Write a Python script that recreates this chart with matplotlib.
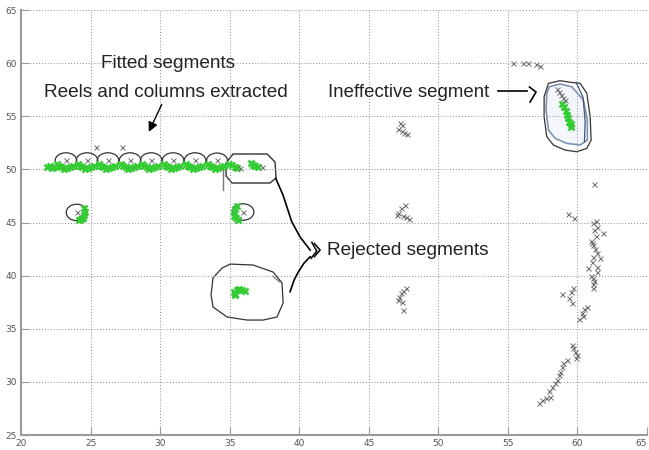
import matplotlib
matplotlib.use("Agg")
import matplotlib.pyplot as plt
from matplotlib.patches import Ellipse, Polygon

# gray "x" points (raw detections)
gray_x = [23.23, 24.74, 26.25, 27.84, 29.35, 30.93, 32.51, 34.09, 25.39, 27.26,
          24.0, 35.96, 35.74, 37.33,
          47.25, 47.39, 47.10, 47.39, 47.53, 47.75,
          47.60, 47.32, 47.10, 47.03, 47.46, 47.68, 47.90,
          47.68, 47.46, 47.32, 47.17, 47.10, 47.39, 47.46,
          55.37, 56.09, 56.45, 57.02, 57.31,
          58.50, 58.65, 58.80, 58.95, 59.10,
          61.19, 59.30, 59.78, 61.34, 61.14, 61.39, 61.86, 61.19, 61.34, 60.96,
          61.03, 61.10, 61.27, 61.39, 61.62, 61.14, 61.03, 61.39, 60.78, 61.39,
          60.98, 61.10, 61.19, 61.10, 61.10, 59.66, 58.91, 59.54, 59.40, 59.59,
          60.67, 60.47, 60.31, 60.38, 60.14,
          59.59, 59.66, 59.83, 59.95, 59.88, 59.23, 58.99, 58.87, 58.75, 58.70,
          58.56, 58.39, 58.15, 57.98, 58.03, 57.74, 57.43, 57.26]
gray_y = [50.84, 50.84, 50.84, 50.84, 50.84, 50.84, 50.84, 50.84, 52.10, 52.10,
          45.95, 45.99, 50.10, 50.20,
          54.36, 54.18, 53.80, 53.60, 53.42, 53.33,
          46.65, 46.36, 45.90, 45.70, 45.60, 45.50, 45.33,
          38.84, 38.56, 38.36, 37.99, 37.70, 37.50, 36.76,
          60.00, 60.00, 60.00, 59.95, 59.70,
          57.60, 57.30, 57.00, 56.70, 56.50,
          48.60, 45.77, 45.45, 45.17, 44.93, 44.60, 43.98, 44.29, 43.73, 43.29,
          43.10, 42.88, 42.48, 42.16, 41.63, 41.78, 41.31, 40.84, 40.69, 40.37,
          39.96, 39.75, 39.49, 39.21, 38.81, 38.81, 38.27, 38.49, 37.92, 37.45,
          37.07, 36.83, 36.51, 36.20, 35.92,
          33.47, 33.16, 32.84, 32.53, 32.22, 32.06, 31.75, 31.43, 30.96, 30.65,
          30.18, 29.87, 29.55, 29.18, 28.55, 28.45, 28.29, 28.04]

# green points (fitted segment points)
green_x = [21.90, 22.05, 22.20, 22.35,
           22.55, 22.70, 22.90, 23.10, 23.30, 23.50, 23.75,
           24.06, 24.21, 24.41, 24.61, 24.81, 25.01, 25.26,
           25.57, 25.72, 25.92, 26.12, 26.32, 26.52, 26.77,
           27.16, 27.31, 27.51, 27.71, 27.91, 28.11, 28.36,
           28.67, 28.82, 29.02, 29.22, 29.42, 29.62, 29.87,
           30.25, 30.40, 30.60, 30.80, 31.00, 31.20, 31.45,
           31.83, 31.98, 32.18, 32.38, 32.58, 32.78, 33.03,
           33.41, 33.56, 33.76, 33.96, 34.16, 34.36, 34.61,
           34.95, 35.15, 35.35, 35.55, 36.55, 36.70, 36.85, 37.00,
           24.50, 24.58, 24.55, 24.45, 24.30, 24.15,
           35.50, 35.35, 35.28, 35.32, 35.45, 35.62,
           35.30, 35.50, 35.70, 35.90, 36.10, 35.40, 35.35,
           58.90, 59.05, 59.15, 59.25, 59.35, 59.42, 59.50, 59.55]
green_y = [50.20, 50.30, 50.15, 50.25,
           50.55, 50.35, 50.18, 50.08, 50.10, 50.18, 50.33,
           50.55, 50.35, 50.18, 50.08, 50.10, 50.18, 50.33,
           50.55, 50.35, 50.18, 50.08, 50.10, 50.18, 50.33,
           50.55, 50.35, 50.18, 50.08, 50.10, 50.18, 50.33,
           50.55, 50.35, 50.18, 50.08, 50.10, 50.18, 50.33,
           50.55, 50.35, 50.18, 50.08, 50.10, 50.18, 50.33,
           50.55, 50.35, 50.18, 50.08, 50.10, 50.18, 50.33,
           50.55, 50.35, 50.18, 50.08, 50.10, 50.18, 50.33,
           50.55, 50.40, 50.25, 50.15, 50.60, 50.45, 50.30, 50.20,
           46.40, 46.00, 45.70, 45.45, 45.30, 45.20,
           46.60, 46.30, 46.00, 45.65, 45.40, 45.20,
           38.50, 38.62, 38.70, 38.66, 38.60, 38.30, 38.15,
           56.20, 55.85, 55.50, 55.15, 54.80, 54.50, 54.25, 54.00]

# fitted circles (centre x, centre y, width, height)
circ_x = [23.23, 24.74, 26.25, 27.84, 29.35, 30.93, 32.51, 34.09, 24.00, 35.96]
circ_y = [50.84, 50.84, 50.84, 50.84, 50.84, 50.84, 50.84, 50.84, 45.95, 45.99]
circ_w = [1.55, 1.55, 1.55, 1.55, 1.55, 1.55, 1.55, 1.50, 1.50, 1.55]
circ_h = [1.45, 1.45, 1.45, 1.45, 1.45, 1.45, 1.45, 1.40, 1.55, 1.55]

# hand drawn outlines
box_x = [35.24, 37.69, 38.26, 38.33, 37.90, 35.17, 34.74, 34.74]
box_y = [51.45, 51.45, 50.69, 49.19, 48.72, 48.72, 49.38, 50.60]
blob_x = [35.03, 36.68, 38.12, 38.76, 38.84, 38.40, 37.40, 36.25, 34.81, 33.80, 33.66, 33.80, 34.45]
blob_y = [41.09, 41.00, 40.34, 39.31, 37.42, 36.11, 35.82, 35.82, 36.11, 37.05, 38.18, 39.78, 40.72]
outer_x = [57.91, 58.75, 59.47, 60.19, 60.67, 60.91, 60.98, 60.67, 59.95, 59.11, 58.27, 57.79, 57.60, 57.60]
outer_y = [58.10, 58.35, 58.20, 58.10, 57.16, 54.96, 52.76, 51.98, 51.66, 51.82, 52.29, 53.08, 54.96, 56.84]
inner_x = [57.98, 58.75, 59.59, 60.42, 60.71, 60.71, 60.19, 59.23, 58.39, 57.91, 57.74, 57.79]
inner_y = [57.78, 58.04, 57.78, 56.53, 54.65, 52.76, 52.29, 52.45, 52.92, 53.71, 55.59, 57.16]
upper_curve_x = [38.31, 38.83, 39.46, 40.06, 40.78]
upper_curve_y = [49.16, 47.59, 45.08, 43.64, 42.41]
lower_curve_x = [39.34, 39.63, 39.94, 40.35, 40.78]
lower_curve_y = [38.49, 39.59, 40.37, 41.19, 41.78]


def main():
    fig = plt.figure(figsize=(6.49, 4.5), dpi=100)
    ax = fig.add_axes([0.0324, 0.0333, 0.9646, 0.9444])
    ax.set_xlim(20, 65)
    ax.set_ylim(25, 65)
    ax.set_xticks(range(20, 66, 5))
    ax.set_yticks(range(25, 66, 5))
    ax.grid(True, linestyle=(0, (1, 2)), color="#8a8a8a", linewidth=0.7)
    for s in ["top", "right"]:
        ax.spines[s].set_visible(False)
    for s in ["left", "bottom"]:
        ax.spines[s].set_color("#9a9a9a")
        ax.spines[s].set_linewidth(1.5)
    ax.tick_params(direction="in", length=6, color="#9a9a9a", labelsize=6.5,
                   labelcolor="#555555", pad=3)
    # last x label would run off the right edge
    xl = ax.get_xticklabels()
    xl[-1].set_horizontalalignment("right")

    # points
    ax.plot(green_x, green_y, "x", color="#33cc33", ms=3.8, mew=1.8)
    ax.plot(gray_x, gray_y, "x", color="#6e6e6e", ms=3.6, mew=0.7)

    # fitted circles
    for cx, cy, w, h in zip(circ_x, circ_y, circ_w, circ_h):
        ax.add_patch(Ellipse((cx, cy), w, h, fill=False, edgecolor="#333333", lw=0.9))

    # rejected segments outlines
    ax.add_patch(Polygon(list(zip(box_x, box_y)), closed=True, fill=False,
                         edgecolor="#333333", lw=1.0))
    ax.plot([34.52, 34.52], [49.95, 48.10], color="#777777", lw=1.0)
    ax.add_patch(Polygon(list(zip(blob_x, blob_y)), closed=True, fill=False,
                         edgecolor="#333333", lw=0.9))
    ax.plot([38.1, 38.6], [39.95, 39.4], color="#777777", lw=0.8)
    ax.plot(upper_curve_x, upper_curve_y, color="black", lw=1.2)
    ax.plot(lower_curve_x, lower_curve_y, color="black", lw=1.2)
    ax.plot([40.90, 41.26, 40.85], [43.14, 42.32, 41.63], color="black", lw=1.1)
    ax.plot([41.08, 41.50, 41.08], [43.04, 42.41, 41.78], color="black", lw=1.1)

    # ineffective segment outline
    ax.add_patch(Polygon(list(zip(inner_x, inner_y)), closed=True,
                         facecolor="#f3f6fb", edgecolor="#7f93b3", lw=1.2, zorder=1))
    ax.add_patch(Polygon(list(zip(outer_x, outer_y)), closed=True, fill=False,
                         edgecolor="#333333", lw=0.9))
    ax.plot([59.9, 60.4, 60.55, 60.5], [58.2, 56.8, 54.5, 52.6], color="#445577", lw=0.9)
    ax.plot([54.29, 56.38], [57.38, 57.38], color="black", lw=1.2)
    ax.plot([56.55, 57.02, 56.59], [57.75, 57.28, 56.34], color="black", lw=1.2)

    # arrow from the caption to the circles
    ax.annotate("", xy=(29.1, 53.3), xytext=(30.2, 56.35),
                arrowprops=dict(arrowstyle="-|>", color="black", lw=1.0,
                                facecolor="white", mutation_scale=14))

    fam = "Liberation Sans"
    ax.text(30.6, 59.54, "Fitted segments", ha="center", va="baseline",
            fontsize=13.7, family=fam, color="#222222")
    ax.text(30.42, 56.81, "Reels and columns extracted", ha="center", va="baseline",
            fontsize=13.7, family=fam, color="#222222")
    ax.text(42.07, 56.81, "Ineffective segment", ha="left", va="baseline",
            fontsize=13.4, family=fam, color="#222222")
    ax.text(42.0, 41.94, "Rejected segments", ha="left", va="baseline",
            fontsize=13.7, family=fam, color="#222222")

    fig.savefig("out.png", dpi=100)


if __name__ == "__main__":
    main()
